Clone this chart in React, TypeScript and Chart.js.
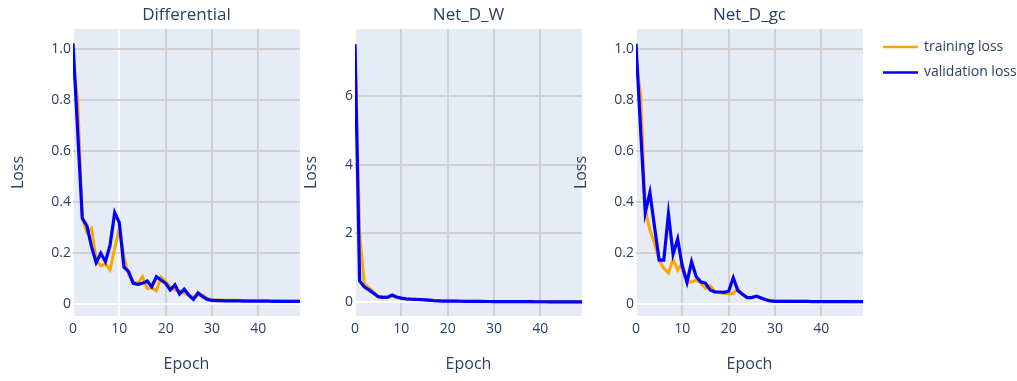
import React, { useEffect, useRef } from "react";
import { Chart, registerables } from "chart.js";

Chart.register(...registerables);

const epochs = [
  0, 1, 2, 3, 4, 5, 6, 7, 8, 9, 10, 11, 12, 13, 14, 15, 16, 17, 18, 19, 20, 21, 22, 23, 24,
  25, 26, 27, 28, 29, 30, 31, 32, 33, 34, 35, 36, 37, 38, 39, 40, 41, 42, 43, 44, 45, 46, 47, 48, 49,
];

const differentialTrain = [
  0.95, 0.8, 0.34, 0.28, 0.297, 0.173, 0.149, 0.157, 0.133, 0.218, 0.297, 0.186, 0.114, 0.088, 0.081,
  0.107, 0.061, 0.064, 0.052, 0.105, 0.088, 0.068, 0.055, 0.052, 0.042, 0.035, 0.026, 0.035, 0.035,
  0.022, 0.018, 0.016, 0.016, 0.015, 0.015, 0.015, 0.014, 0.014, 0.014, 0.014, 0.013, 0.013, 0.013,
  0.013, 0.013, 0.012, 0.012, 0.012, 0.012, 0.012,
];
const differentialVal = [
  1.022, 0.68, 0.336, 0.306, 0.225, 0.162, 0.199, 0.166, 0.231, 0.358, 0.319, 0.144, 0.127, 0.081,
  0.077, 0.081, 0.09, 0.068, 0.107, 0.094, 0.081, 0.055, 0.075, 0.039, 0.058, 0.035, 0.018, 0.044,
  0.029, 0.018, 0.014, 0.013, 0.013, 0.012, 0.012, 0.012, 0.012, 0.011, 0.011, 0.011, 0.011, 0.011,
  0.011, 0.01, 0.01, 0.01, 0.01, 0.01, 0.01, 0.01,
];

const netDWTrain = [
  7.4, 2.0, 0.55, 0.42, 0.3, 0.18, 0.15, 0.15, 0.17, 0.13, 0.11, 0.1, 0.09, 0.08, 0.075, 0.07, 0.06,
  0.05, 0.045, 0.04, 0.038, 0.036, 0.034, 0.032, 0.03, 0.028, 0.027, 0.026, 0.025, 0.024, 0.023, 0.022,
  0.021, 0.02, 0.02, 0.019, 0.018, 0.018, 0.017, 0.017, 0.016, 0.016, 0.015, 0.015, 0.015, 0.014,
  0.014, 0.014, 0.013, 0.013,
];
const netDWVal = [
  7.5, 0.62, 0.45, 0.36, 0.26, 0.16, 0.14, 0.14, 0.21, 0.15, 0.12, 0.1, 0.09, 0.085, 0.08, 0.07, 0.06,
  0.045, 0.04, 0.035, 0.033, 0.031, 0.03, 0.028, 0.026, 0.025, 0.024, 0.023, 0.022, 0.021, 0.02, 0.019,
  0.018, 0.018, 0.017, 0.016, 0.016, 0.015, 0.015, 0.014, 0.014, 0.014, 0.013, 0.013, 0.013, 0.012,
  0.012, 0.012, 0.012, 0.011,
];

const netDgcTrain = [
  0.96, 0.82, 0.37, 0.29, 0.238, 0.172, 0.14, 0.122, 0.175, 0.133, 0.16, 0.085, 0.087, 0.094, 0.081,
  0.061, 0.072, 0.048, 0.044, 0.042, 0.039, 0.042, 0.062, 0.036, 0.025, 0.027, 0.029, 0.024, 0.018,
  0.014, 0.012, 0.012, 0.012, 0.011, 0.011, 0.011, 0.011, 0.011, 0.01, 0.01, 0.01, 0.01, 0.01, 0.01,
  0.01, 0.01, 0.009, 0.009, 0.009, 0.009,
];
const netDgcVal = [
  1.02, 0.68, 0.358, 0.437, 0.303, 0.172, 0.172, 0.353, 0.196, 0.255, 0.146, 0.085, 0.166, 0.107,
  0.087, 0.081, 0.055, 0.047, 0.047, 0.046, 0.05, 0.103, 0.052, 0.038, 0.025, 0.025, 0.031, 0.024,
  0.017, 0.012, 0.01, 0.01, 0.01, 0.01, 0.01, 0.01, 0.01, 0.01, 0.009, 0.009, 0.009, 0.009, 0.009,
  0.009, 0.009, 0.009, 0.009, 0.009, 0.009, 0.009,
];

const panelTitles = ["Differential", "Net_D_W", "Net_D_gc"];
const seriesNames = ["training loss", "validation loss"];
const xTickStep = 10;
const yRanges = [
  [-0.047, 1.078, 0.2],
  [-0.4, 7.94, 2],
  [-0.047, 1.078, 0.2],
];

const TEXT = "#2a3f5f";
const GRID = "#d0d0d3";
const BG = "#e5ecf6";
const FONT = "'Open Sans', 'Noto Sans', sans-serif";

const bgPlugin = {
  id: "plotBg",
  beforeDraw(chart: any) {
    const { ctx, chartArea } = chart;
    ctx.save();
    ctx.fillStyle = BG;
    ctx.fillRect(chartArea.left, chartArea.top, chartArea.right - chartArea.left, chartArea.bottom - chartArea.top);
    ctx.restore();
  },
};

const legendPlugin = {
  id: "sideLegend",
  afterDraw(chart: any) {
    const { ctx, chartArea } = chart;
    ctx.save();
    chart.data.datasets.forEach((ds: any, i: number) => {
      const y = 47 + i * 25.5;
      const x0 = chartArea.right + 20;
      ctx.strokeStyle = ds.borderColor;
      ctx.lineWidth = 2.5;
      ctx.beginPath();
      ctx.moveTo(x0, y);
      ctx.lineTo(x0 + 35, y);
      ctx.stroke();
      ctx.fillStyle = TEXT;
      ctx.font = `14px ${FONT}`;
      ctx.textBaseline = "middle";
      ctx.textAlign = "left";
      ctx.fillText(ds.label, x0 + 41, y);
    });
    ctx.restore();
  },
};

type PanelProps = {
  idx: number;
  train: number[];
  val: number[];
  left: number;
  width: number;
  padRight: number;
  yTitlePad: number;
  legend?: boolean;
};

function Panel({ idx, train, val, left, width, padRight, yTitlePad, legend }: PanelProps) {
  const ref = useRef<HTMLCanvasElement>(null);
  useEffect(() => {
    if (!ref.current) return;
    const [yMin, yMax, yStep] = yRanges[idx];
    const chart = new Chart(ref.current, {
      type: "line",
      data: {
        datasets: [
          {
            label: seriesNames[0],
            data: epochs.map((e, i) => ({ x: e, y: train[i] })),
            borderColor: "#FFA500",
            backgroundColor: "#FFA500",
            borderWidth: 3,
            pointRadius: 0,
            tension: 0,
            order: 1,
          },
          {
            label: seriesNames[1],
            data: epochs.map((e, i) => ({ x: e, y: val[i] })),
            borderColor: "#0000FF",
            backgroundColor: "#0000FF",
            borderWidth: 3.2,
            pointRadius: 0,
            tension: 0,
            order: 0,
          },
        ],
      },
      options: {
        animation: false,
        responsive: false,
        maintainAspectRatio: false,
        layout: { padding: { left: 0, right: padRight, top: 0, bottom: 0 } },
        plugins: {
          legend: { display: false },
          tooltip: { enabled: false },
          title: {
            display: true,
            text: panelTitles[idx],
            fullSize: false,
            color: TEXT,
            font: { family: FONT, size: 17, weight: "normal" },
            padding: { top: 5, bottom: 3.6 },
          },
        },
        scales: {
          x: {
            type: "linear",
            min: 0,
            max: 49,
            afterFit: (s: any) => {
              s.height = 65;
            },
            ticks: {
              stepSize: xTickStep,
              includeBounds: false,
              padding: 5,
              maxRotation: 0,
              color: TEXT,
              font: { family: FONT, size: 14 },
            },
            grid: {
              drawTicks: false,
              color: (c: any) => {
                const v = c.tick ? c.tick.value : null;
                if (v === 0) return "#ffffff";
                if (idx === 0 && v === 10) return "#ffffff";
                return GRID;
              },
              lineWidth: 2,
            },
            border: { display: false },
            title: {
              display: true,
              text: "Epoch",
              color: TEXT,
              font: { family: FONT, size: 16 },
              padding: { top: 0, bottom: 7 },
            },
          },
          y: {
            type: "linear",
            min: yMin,
            max: yMax,
            afterFit: (s: any) => {
              s.width = 73;
            },
            ticks: {
              stepSize: yStep,
              includeBounds: false,
              padding: 2,
              color: TEXT,
              font: { family: FONT, size: 14 },
            },
            grid: {
              drawTicks: false,
              color: (c: any) => (c.tick && c.tick.value === 0 ? "#ffffff" : GRID),
              lineWidth: 2,
            },
            border: { display: false },
            title: {
              display: true,
              text: "Loss",
              color: TEXT,
              font: { family: FONT, size: 16 },
              padding: { top: yTitlePad, bottom: 0 },
            },
          },
        },
      },
      plugins: legend ? [bgPlugin, legendPlugin] : [bgPlugin],
    } as any);
    return () => chart.destroy();
  }, []);
  return (
    <canvas
      ref={ref}
      width={width}
      height={381}
      style={{ position: "absolute", left, top: 0, width, height: 381 }}
    />
  );
}

export default function App() {
  return (
    <div
      style={{
        position: "absolute",
        left: 0,
        top: 0,
        width: 1017,
        height: 381,
        background: "#ffffff",
        overflow: "hidden",
      }}
    >
      <Panel idx={0} train={differentialTrain} val={differentialVal} left={0} width={310} padRight={10} yTitlePad={9} />
      <Panel idx={1} train={netDWTrain} val={netDWVal} left={282} width={310} padRight={10} yTitlePad={20} />
      <Panel idx={2} train={netDgcTrain} val={netDgcVal} left={563} width={454} padRight={154} yTitlePad={8.5} legend />
    </div>
  );
}
